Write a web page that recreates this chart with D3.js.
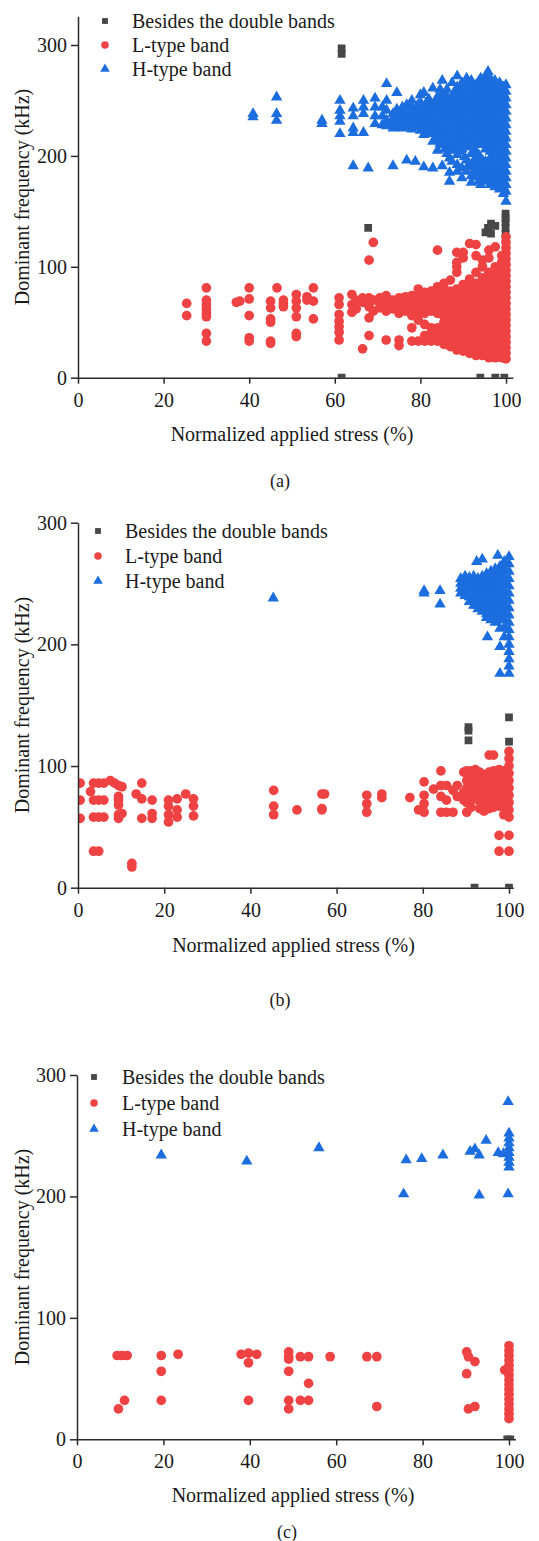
<!DOCTYPE html>
<meta charset="utf-8">
<head>
<title>Dominant frequency vs normalized applied stress</title>
</head>
<style>
body { margin: 0; background: #fff; }
text { font-family: "Liberation Serif", "Times New Roman", serif; fill: #1a1a1a; }
.axis path, .axis line { stroke: #2b2b2b; stroke-width: 1.5px; }
.axis text { font-size: 20px; }
</style>
<body>
<svg width="539" height="1541"></svg>
<script src="https://cdnjs.cloudflare.com/ajax/libs/d3/7.8.5/d3.min.js"></script>
<script>

// ---- data: [stress %, [frequencies kHz]] per column ----
var seriesNames = ['Besides the double bands', 'L-type band', 'H-type band'];
var xTicks = [0, 20, 40, 60, 80, 100];
var yTicks = [0, 100, 200, 300];
var FONT = '"Liberation Serif", "Times New Roman", serif';

// panel (a)
var aGrey = [[61.6, [297, 292, 0]], [67.8, [135]], [94, [0]], [95.2, [131]], [95.8, [135]], [96.5, [139, 130]],
  [97.5, [137, 0]], [99.6, [0]], [99.9, [148, 144, 140, 135, 130, 125]]];
var aL = [
  [25.4, [67, 56]],
  [30, [81, 70, 66, 62, 58, 55, 40, 33]],
  [37, [68]], [37.8, [69]],
  [40, [81, 71, 56, 36, 33]],
  [45, [69, 63, 53, 50, 33, 31]],
  [46.5, [81]],
  [48, [70, 67, 64]],
  [51, [75, 69, 63, 55, 40, 37]],
  [53.5, [73, 70]],
  [55, [81, 69, 53]],
  [61, [72, 66, 57, 51, 46, 41, 34]],
  [64, [75, 66, 59]],
  [65, [70, 62]],
  [66.5, [26, 68, 72]],
  [68, [106, 64, 54, 38, 72, 68]],
  [69, [122, 70, 60]],
  [70.5, [63, 67, 72]],
  [72, [60, 65, 70, 74, 34]],
  [73.5, [62, 66, 70]],
  [75, [58, 63, 67, 72, 34, 29]],
  [76.5, [60, 64, 68, 73]],
  [78, [56, 61, 65, 69, 74, 45, 33]],
  [79.5, [52, 57, 62, 66, 70, 75, 80, 33]],
  [81, [48, 58, 63, 67, 72, 77, 33, 38]],
  [82.5, [40, 45, 60, 64, 68, 73, 78, 33]],
  [84, [35, 40, 45, 58, 63, 67, 72, 77, 82, 33, 115]],
  [85.5, [30, 35, 40, 45, 50, 55, 60, 65, 70, 75, 80, 85]],
  [87, [28, 33, 38, 43, 48, 53, 58, 63, 68, 73, 78, 88]],
  [88.5, [25, 30, 35, 40, 45, 50, 55, 60, 65, 70, 75, 80, 95, 100, 104, 113]],
  [90, [24, 29, 34, 39, 44, 49, 54, 59, 64, 69, 74, 79, 84, 108, 113]],
  [91.5, [22, 27, 32, 37, 42, 47, 52, 57, 62, 67, 72, 77, 82, 89, 121]],
  [93, [20, 25, 30, 35, 40, 45, 50, 55, 60, 65, 70, 75, 80, 85, 95, 110, 120]],
  [94.5, [20, 25, 30, 35, 40, 45, 50, 55, 60, 65, 70, 75, 80, 85, 90, 100, 106]],
  [96, [18, 23, 28, 33, 38, 43, 48, 53, 58, 63, 68, 73, 78, 83, 88, 95, 108, 115]],
  [97.5, [18, 23, 28, 33, 38, 43, 48, 53, 58, 63, 68, 73, 78, 83, 88, 94, 100, 118]],
  [99, [18, 23, 28, 33, 38, 43, 48, 53, 58, 63, 68, 73, 78, 83, 88, 93, 98, 104, 110]],
  [100, [17, 22, 27, 32, 37, 42, 47, 52, 57, 62, 67, 72, 77, 82, 87, 92, 97, 102, 107, 112, 117, 122, 127]]
];
var aH = [
  [40.9, [238, 235]],
  [46.4, [253, 238, 232]],
  [57, [232, 229]],
  [61.2, [250, 241, 236, 231, 220]],
  [64.3, [243, 236, 225, 221, 191]],
  [66.7, [250, 244, 238, 221]],
  [67.8, [189]],
  [69.4, [252, 244, 236, 229]],
  [71.1, [244, 236, 228]],
  [72.1, [265, 250, 241, 232, 227]],
  [73.6, [238, 234, 229, 225, 191]],
  [74.5, [257, 242, 236, 231, 226]],
  [75.8, [244, 239, 234, 229, 225]],
  [76.2, [237, 232, 228]],
  [76.8, [246, 240, 235, 230, 226, 196]],
  [78, [250, 244, 239, 234, 229, 224]],
  [78.8, [238, 233, 228, 195]],
  [79.4, [246, 241, 236, 231, 226]],
  [80, [255, 248, 243, 238, 233, 228, 223]],
  [80.8, [257, 240, 235, 230, 225, 219, 190]],
  [81.4, [248, 243, 238, 233, 228, 223]],
  [82, [251, 246, 241, 236, 231, 226, 220]],
  [82.9, [261, 245, 240, 234, 228, 222, 213, 189]],
  [83.5, [250, 244, 238, 233, 228, 222, 216]],
  [84, [253, 248, 243, 238, 232, 227, 221, 215, 205]],
  [84.6, [260, 246, 240, 235, 229, 223, 211]],
  [85.1, [268, 256, 250, 245, 240, 234, 229, 223, 217, 210, 191]],
  [85.7, [252, 246, 240, 234, 228, 222, 216, 206]],
  [86.2, [260, 254, 248, 243, 237, 231, 226, 220, 214, 208, 202]],
  [86.8, [250, 238, 226, 198, 185, 177]],
  [87.4, [266, 252, 246, 240, 235, 229, 223, 217, 211, 205, 195]],
  [88, [258, 249, 243, 237, 231, 225, 219, 213, 207]],
  [88.6, [272, 262, 256, 250, 244, 238, 232, 226, 220, 214, 208, 201, 192, 186]],
  [89.2, [259, 253, 247, 241, 235, 229, 223, 217, 211, 204]],
  [89.7, [266, 260, 254, 248, 242, 236, 230, 224, 218, 212, 206, 189, 180]],
  [90.3, [265, 259, 253, 247, 241, 235, 229, 223, 217, 211, 199]],
  [90.8, [270, 262, 256, 250, 244, 238, 232, 226, 220, 214, 208, 196, 186]],
  [91.4, [265, 259, 253, 247, 241, 235, 229, 223, 217, 211, 193]],
  [91.9, [268, 262, 256, 250, 244, 238, 232, 226, 220, 214, 208, 202, 190, 182, 176]],
  [92.5, [261, 255, 249, 243, 237, 231, 225, 219, 213, 196, 185]],
  [93, [264, 258, 252, 246, 240, 234, 228, 222, 216, 210, 204, 193, 187, 181]],
  [93.6, [267, 261, 255, 249, 243, 237, 231, 225, 219, 213, 201, 189, 177]],
  [94.1, [270, 264, 258, 252, 246, 240, 234, 228, 222, 216, 210, 198, 192, 186, 180, 174]],
  [94.7, [267, 261, 255, 249, 243, 237, 231, 225, 219, 213, 195, 183]],
  [95.2, [272, 266, 260, 254, 248, 242, 236, 230, 224, 218, 212, 206, 195, 189, 183, 177]],
  [95.8, [276, 263, 257, 251, 245, 239, 233, 227, 221, 215, 209, 192, 180]],
  [96.3, [270, 264, 258, 252, 246, 240, 234, 228, 222, 216, 210, 204, 198, 192, 186, 180, 174]],
  [96.9, [265, 259, 253, 247, 241, 235, 229, 223, 217, 211, 205, 195, 183, 175]],
  [97.4, [268, 262, 256, 250, 244, 238, 232, 226, 220, 214, 208, 202, 196, 190, 184, 178, 172]],
  [98, [263, 257, 251, 245, 239, 233, 227, 221, 215, 209, 199, 187, 175]],
  [98.5, [266, 260, 254, 248, 242, 236, 230, 224, 218, 212, 206, 200, 194, 188, 182, 176, 170]],
  [99.4, [262, 256, 250, 244, 238, 232, 226, 220, 214, 208, 202, 196, 190, 184, 178, 172, 166]],
  [100, [264, 258, 252, 246, 240, 234, 228, 222, 216, 210, 204, 198, 192, 186, 180, 174, 168, 159]]
];

// panel (b)
var bGrey = [[90.6, [132, 129, 121]], [92, [0]], [100, [140, 120, 0]]];
var bL = [
  [0.5, [86, 72, 57]], [2.9, [79]], [3.6, [86, 72, 58, 30]], [4.8, [86, 72, 58, 30]],
  [6, [86, 72, 58]], [7.5, [88]], [8.5, [86]], [9.4, [84, 75, 72, 68, 60, 57]],
  [10.2, [83, 61]], [12.5, [20, 17]], [13.5, [77]], [14.8, [86, 73, 57]],
  [17.2, [72, 61, 57]], [21, [72, 67, 60, 54]], [23, [73, 64, 58]], [25, [77]],
  [26.8, [73, 67, 59]], [45.4, [80, 67, 60]], [50.8, [64]], [56.6, [77, 65, 64]],
  [57.2, [77]], [67, [76, 69, 62]], [70.5, [77, 74]], [77, [74]], [79, [64]],
  [80.3, [87, 76, 69, 62]], [82.5, [81]], [84.2, [96, 84, 75, 62]], [85.5, [84, 72, 62]],
  [87, [80, 62]], [88, [84, 75]], [89.5, [95, 78, 72]],
  [90.2, [96, 88, 82, 76, 70, 62]],
  [91.2, [96, 90, 84, 78, 72, 66]],
  [92.2, [97, 91, 85, 79, 73]],
  [93.2, [95, 89, 83, 77, 71, 65]],
  [94.2, [93, 87, 81, 75, 69, 63]],
  [95.4, [109, 95, 89, 83, 77, 71, 65]],
  [96.4, [109, 96, 90, 84, 78, 72, 66]],
  [97.7, [97, 91, 85, 79, 73, 67, 43, 30]],
  [98.8, [96, 90, 84, 78, 72, 66, 60]],
  [100, [112, 106, 100, 94, 88, 82, 76, 70, 64, 58, 43, 30]]
];
var bH = [
  [45.3, [238]], [80.3, [244, 242]], [84, [244, 233]],
  [88.8, [254, 250, 246, 242]],
  [89.8, [256, 252, 248, 244, 240]],
  [90.8, [255, 251, 247, 243, 239, 235]],
  [91.8, [256, 252, 248, 244, 240, 236, 232]],
  [92.5, [268, 232]],
  [92.8, [254, 250, 246, 242, 238, 234, 229]],
  [93.8, [270, 256, 252, 248, 244, 240, 236, 232, 227]],
  [94.8, [258, 254, 250, 246, 242, 238, 234, 230, 225, 222]],
  [95, [206]],
  [95.8, [260, 256, 252, 248, 244, 240, 236, 232, 228, 224, 220]],
  [96.8, [262, 258, 254, 250, 246, 242, 238, 234, 230, 226, 222, 218]],
  [97.4, [273]],
  [97.9, [264, 260, 256, 252, 248, 244, 240, 236, 232, 228, 224, 220, 213, 198, 176]],
  [98.9, [268, 262, 256, 250, 244, 238, 232, 226, 220, 214, 206]],
  [100, [272, 266, 260, 254, 248, 242, 236, 230, 224, 218, 212, 206, 200, 194, 188, 182, 176]]
];

// panel (c)
var cGrey = [[99.6, [0]], [100.3, [0]]];
var cL = [
  [9.3, [69]], [9.6, [25]], [10.4, [69]], [11, [32]], [11.6, [69]],
  [19.5, [69, 56, 32]], [23.4, [70]],
  [38, [70]], [39.7, [71, 63, 32]], [41.6, [70]],
  [49, [72, 68, 66, 56, 32, 25]], [51.7, [68, 32]], [53.6, [68, 46, 32]],
  [58.6, [68]], [67.1, [68]], [69.4, [68, 27]],
  [90.2, [72, 54]], [90.6, [68, 25]], [92.1, [64, 27]],
  [99, [57]],
  [100, [77, 73, 69, 65, 61, 57, 53, 49, 45, 41, 37, 33, 29, 25, 21, 17]]
];
var cH = [
  [19.5, [234]], [39.3, [229]], [56, [240]], [75.6, [202]], [76.2, [230]],
  [79.8, [231]], [84.7, [234]], [91, [237]], [92.1, [239]], [93.1, [234, 201]],
  [94.7, [246]], [97.5, [236]], [98.7, [235]], [99.8, [278, 202]],
  [100, [252, 248, 244, 240, 236, 232, 228, 224]]
];

var colors = ['#474747', '#ef4243', '#1c6edf'];

// flatten the column lists into points
function pts(cols) {
  var out = [];
  cols.forEach(function(c) { c[1].forEach(function(v) { out.push({x: c[0], y: v}); }); });
  return out;
}

var panels = [
  {series: [aGrey, aL, aH], x0: 78, x100: 506, y0: 377.7, y300: 45, xMax: 101.6, yMax: 326,
   legend: {mx: 105, tx: 132, y: 21, dy: 24}, ylabCy: 197, xlabY: 441, cap: '(a)', capX: 280, capY: 487},
  {series: [bGrey, bL, bH], x0: 78, x100: 509, y0: 887.7, y300: 522.7, xMax: 101, yMax: 300,
   legend: {mx: 98, tx: 125, y: 531, dy: 25}, ylabCy: 705, xlabY: 952, cap: '(b)', capX: 280, capY: 1006},
  {series: [cGrey, cL, cH], x0: 77, x100: 509, y0: 1439.3, y300: 1075, xMax: 101.5, yMax: 300,
   legend: {mx: 94, tx: 122, y: 1077, dy: 26}, ylabCy: 1257, xlabY: 1502, cap: '(c)', capX: 287, capY: 1538}
];

var svg = d3.select('svg');
var symbols = [d3.symbolSquare, d3.symbolCircle, d3.symbolTriangle];
var markSize = [60, 74, 56];
var legSize = [34, 44, 40];

panels.forEach(function(p, i) {
  var x = d3.scaleLinear().domain([0, p.xMax])
    .range([p.x0, p.x0 + (p.x100 - p.x0) * p.xMax / 100]);
  var y = d3.scaleLinear().domain([0, p.yMax])
    .range([p.y0, p.y0 - (p.y0 - p.y300) * p.yMax / 300]);

  var g = svg.append('g');

  // keep markers above the x axis (squares at 0 kHz are cut in half)
  g.append('clipPath').attr('id', 'clip' + i)
    .append('rect').attr('x', p.x0).attr('y', y(p.yMax) - 10)
    .attr('width', 539 - p.x0).attr('height', p.y0 - y(p.yMax) + 10);

  var plot = g.append('g').attr('clip-path', 'url(#clip' + i + ')');
  p.series.forEach(function(s, k) {
    plot.selectAll('.m' + k)
      .data(pts(s))
      .enter().append('path')
      .attr('class', 'm' + k)
      .attr('d', d3.symbol().type(symbols[k]).size(markSize[k]))
      .attr('transform', function(d) { return 'translate(' + x(d.x) + ',' + y(d.y) + ')'; })
      .style('fill', colors[k]);
  });

  g.append('g').attr('class', 'axis')
    .attr('transform', 'translate(0,' + p.y0 + ')')
    .call(d3.axisBottom(x).tickValues(xTicks).tickSize(6).tickSizeOuter(0).tickPadding(9))
    .attr('font-family', FONT).attr('font-size', 20);
  g.append('g').attr('class', 'axis')
    .attr('transform', 'translate(' + p.x0 + ',0)')
    .call(d3.axisLeft(y).tickValues(yTicks).tickSize(7).tickSizeOuter(0).tickPadding(4))
    .attr('font-family', FONT).attr('font-size', 20);

  // legend
  seriesNames.forEach(function(name, k) {
    var ly = p.legend.y + k * p.legend.dy;
    g.append('path')
      .attr('d', d3.symbol().type(symbols[k]).size(legSize[k]))
      .attr('transform', 'translate(' + p.legend.mx + ',' + ly + ')')
      .style('fill', colors[k]);
    g.append('text').attr('x', p.legend.tx).attr('y', ly).attr('dy', '0.33em')
      .style('font-family', FONT).style('font-size', '20px').text(name);
  });

  g.append('text')
    .attr('transform', 'translate(22,' + p.ylabCy + ') rotate(-90)')
    .attr('text-anchor', 'middle').attr('dy', '0.33em')
    .style('font-family', FONT).style('font-size', '20px').text('Dominant frequency (kHz)');
  g.append('text')
    .attr('x', x(50)).attr('y', p.xlabY)
    .attr('text-anchor', 'middle')
    .style('font-family', FONT).style('font-size', '20px').text('Normalized applied stress (%)');
  g.append('text')
    .attr('x', p.capX).attr('y', p.capY)
    .attr('text-anchor', 'middle')
    .style('font-family', FONT).style('font-size', '18px').text(p.cap);
});
</script>
</body>
